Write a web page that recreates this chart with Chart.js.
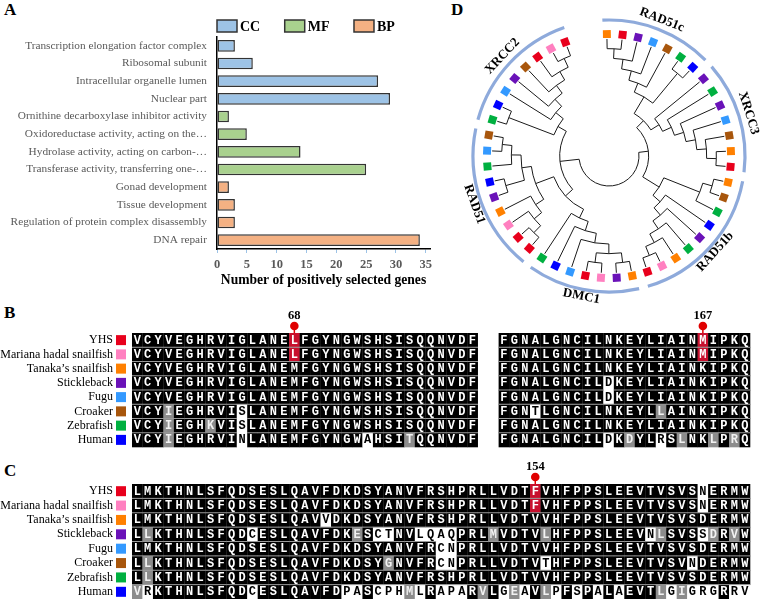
<!DOCTYPE html>
<html>
<head>
<meta charset="utf-8">
<script src="https://cdn.jsdelivr.net/npm/chart.js@4.4.1/dist/chart.umd.min.js"></script>
<style>
  body { margin: 0; background: #fff; width: 760px; height: 599px; overflow: hidden; position: relative; }
  .tag { position: absolute; font: bold 17px "Liberation Serif", "Times New Roman", serif; color: #000; }
  canvas { position: absolute; }
</style>
</head>
<body>
<div class="tag" style="left:4px;top:0px">A</div>
<div class="tag" style="left:4px;top:303px">B</div>
<div class="tag" style="left:4px;top:461px">C</div>
<div class="tag" style="left:451px;top:0px">D</div>
<canvas id="goChart" width="440" height="300" style="left:0;top:0"></canvas>
<canvas id="treeChart" width="320" height="310" style="left:440px;top:0"></canvas>
<canvas id="alnB" width="760" height="150" style="left:0;top:310px"></canvas>
<canvas id="alnC" width="760" height="139" style="left:0;top:460px"></canvas>
<script>
const SERIF = '"Liberation Serif", "Times New Roman", serif';
Chart.defaults.font.family = SERIF;

// ---- panel A data ----
const goTerms = [
  "Transcription elongation factor complex",
  "Ribosomal subunit",
  "Intracellular organelle lumen",
  "Nuclear part",
  "Ornithine decarboxylase inhibitor activity",
  "Oxidoreductase activity, acting on the…",
  "Hydrolase activity, acting on carbon-…",
  "Transferase activity, transferring one-…",
  "Gonad development",
  "Tissue development",
  "Regulation of protein complex disassembly",
  "DNA repair"
];
const goCounts = [3, 6, 27, 29, 2, 5, 14, 25, 2, 3, 3, 34];
const goClass = ["CC", "CC", "CC", "CC", "MF", "MF", "MF", "MF", "BP", "BP", "BP", "BP"];
const goClassNames = ["CC", "MF", "BP"];
const goClassFill = ["#9dc3e6", "#a9d18e", "#f4b183"];

// ---- species ----
const species = ["YHS", "Mariana hadal snailfish", "Tanaka\u2019s snailfish", "Stickleback", "Fugu", "Croaker", "Zebrafish", "Human"];
const speciesCode = ["Y", "M", "T", "S", "F", "C", "Z", "H"];
const speciesColor = ["#e8001c", "#ff80c0", "#ff8000", "#6a12b8", "#3399ff", "#a8560c", "#00b040", "#0000ff"];

// ---- panel B alignment ----
const bLeftSeqs = [
  "VCYVEGHRVIGLANELFGYNGWSHSISQQNVDF",
  "VCYVEGHRVIGLANELFGYNGWSHSISQQNVDF",
  "VCYVEGHRVIGLANEMFGYNGWSHSISQQNVDF",
  "VCYVEGHRVIGLANEMFGYNGWSHSISQQNVDF",
  "VCYVEGHRVIGLANEMFGYNGWSHSISQQNVDF",
  "VCYIEGHRVISLANEMFGYNGWSHSISQQNVDF",
  "VCYIEGHKVISLANEMFGYNGWSHSISQQNVDF",
  "VCYIEGHRVINLANEMFGYNGWAHSITQQNVDF"
];
const bLeftMarks = [{15: "r"}, {15: "r"}, {}, {}, {}, {3: "g", 10: "w"}, {3: "g", 7: "g", 10: "w"}, {3: "g", 10: "w", 22: "w", 26: "g"}];
const bRightSeqs = [
  "FGNALGNCILNKEYLIAINMIPKQ",
  "FGNALGNCILNKEYLIAINMIPKQ",
  "FGNALGNCILNKEYLIAINKIPKQ",
  "FGNALGNCILDKEYLIAINKIPKQ",
  "FGNALGNCILDKEYLIAINKIPKQ",
  "FGNTLGNCILNKEYLLAINKIPKQ",
  "FGNALGNCILNKEYLIAINKIPKQ",
  "FGNALGNCILDKDYLRSLNKLPRQ"
];
const bRightMarks = [{19: "r"}, {19: "r"}, {}, {10: "w"}, {10: "w"}, {3: "w", 15: "g"}, {}, {10: "w", 12: "g", 15: "w", 17: "g", 20: "g", 22: "g"}];
const bSites = [{col: 15, label: "68"}, {col: 54, label: "167"}];

// ---- panel C alignment ----
const cSeqs = [
  "LMKTHNLSFQDSESLQAVFDKDSYANVFRSHPRLLVDTFVHFPPSLEEVTVSVSNERMW",
  "LMKTHNLSFQDSESLQAVFDKDSYANVFRSHPRLLVDTFVHFPPSLEEVTVSVSNERMW",
  "LMKTHNLSFQDSESLQAVVDKDSYANVFRSHPRLLVDTVVHFPPSLEEVTVSVSDERMW",
  "LLKTHNLSFQDCESLQAVFDKESCTNVLQAQPRLMVDTVLHFPPSLEEVNLSVSSDRVW",
  "LMKTHNLSFQDSESLQAVFDKDSYANVFRCNPRLLVDTVVHFPPSLEEVTVSVSDERMW",
  "LLKTHNLSFQDSESLQAVFDKDSYGNVFRCNPRLLVDTVTHFPPSLEEVTVSVNDERMW",
  "LLKTHNLSFQDSESLQAVFDKDSYANVFRSHPRLLVDTVVHFPPSLEEVTVSVSDERMW",
  "VRKTHNLSFQDCESLQAVFDPASCPHMLRAPARVLGEAVLPFSPALAEVTLGIGRGRRV"
];
const cMarks = [
  {38: "r", 54: "w"},
  {38: "r", 54: "w"},
  {18: "w"},
  {1: "g", 11: "w", 21: "g", 23: "w", 24: "w", 27: "w", 28: "w", 29: "w", 30: "w", 34: "g", 39: "g", 49: "w", 50: "g", 54: "w", 55: "g", 57: "g"},
  {29: "w", 30: "w"},
  {1: "g", 24: "g", 29: "w", 30: "w", 39: "w", 53: "w"},
  {1: "g"},
  {0: "g", 1: "w", 11: "w", 20: "w", 21: "w", 23: "w", 24: "w", 25: "w", 26: "g", 27: "w", 29: "w", 30: "w", 31: "w", 33: "g", 35: "w", 36: "g", 37: "w", 39: "g", 40: "w", 42: "w", 44: "w", 46: "w", 50: "g", 51: "w", 52: "g", 53: "w", 54: "w", 55: "w", 57: "w", 58: "w"}
];
const cSites = [{col: 38, label: "154"}];

// ---- panel D tree (leaves listed clockwise from the top) ----
const cladeNames = ["RAD51c", "XRCC3", "RAD51b", "DMC1", "RAD51", "XRCC2"];
const cladeTrees = [
  [[[[["T", "Y"], "S"], "F"], "C"], ["Z", "H"]],
  ["S", ["Z", ["S", ["F", ["C", ["T", "Y"]]]]]],
  [[["T", "C"], "Z"], ["H", ["S", ["Z", ["T", ["M", "Y"]]]]]],
  [[[[["T", "S"], ["M", "Y"]], "F"], "H"], "Z"],
  [[[["Y", "Y"], "M"], "T"], [["S", "H"], ["Z", ["F", "C"]]]],
  [["Z", "H"], ["F", ["S", ["C", ["Y", ["M", "Y"]]]]]]
];
const rootShape = [[[0, 1], 2], [[3, 4], 5]];

// ================= panel A =================
const goLegend = {
  id: "goLegend",
  afterDraw(chart) {
    const ctx = chart.ctx;
    let x = chart.chartArea.left;
    const y = 26;
    ctx.save();
    ctx.font = "bold 14px " + SERIF;
    ctx.textBaseline = "middle";
    chart.data.datasets.forEach(ds => {
      ctx.fillStyle = ds.backgroundColor;
      ctx.fillRect(x, y - 6, 20, 12);
      ctx.strokeStyle = "#333";
      ctx.lineWidth = 1.5;
      ctx.strokeRect(x, y - 6, 20, 12);
      ctx.fillStyle = "#000";
      ctx.fillText(ds.label, x + 23, y + 1);
      x += 23 + ctx.measureText(ds.label).width + 24.5;
    });
    ctx.restore();
  }
};

new Chart(document.getElementById("goChart"), {
  type: "bar",
  data: {
    labels: goTerms,
    datasets: goClassNames.map((c, k) => ({
      label: c,
      data: goCounts.map((v, i) => (goClass[i] === c ? v : null)),
      backgroundColor: goClassFill[k],
      borderColor: "#333",
      borderWidth: 1.5,
      borderSkipped: false,
      grouped: false,
      barPercentage: 0.66,
      categoryPercentage: 1
    }))
  },
  options: {
    indexAxis: "y",
    responsive: false,
    animation: false,
    layout: { padding: { top: 37, right: 10, bottom: 9, left: 0 } },
    plugins: { legend: { display: false }, tooltip: { enabled: false } },
    scales: {
      y: {
        grid: { display: false, drawTicks: false },
        border: { color: "#000", width: 1.5 },
        ticks: { color: "#595959", font: { size: 11.3 }, padding: 10, autoSkip: false },
        afterFit(s) { s.width = 217; s.paddingTop = 0; s.paddingBottom = 0; }
      },
      x: {
        min: 0,
        max: 35.7,
        ticks: { stepSize: 5, includeBounds: false, color: "#595959", font: { size: 12.5, weight: "bold" }, padding: 4 },
        grid: { drawOnChartArea: false, color: "#9dc3e6", tickLength: 4 },
        border: { color: "#000", width: 1.5 },
        title: {
          display: true,
          text: "Number of positively selected genes",
          color: "#000",
          font: { size: 13.6, weight: "bold" },
          padding: { top: 0, bottom: 2 }
        },
        afterFit(s) { s.height = 42; }
      }
    }
  },
  plugins: [goLegend]
});

// ================= panel B / C =================
const cellFill = { ".": "#000", g: "#8c8c8c", w: "#fff", r: "#c8102e" };
const cellText = { ".": "#fff", g: "#f2f2f2", w: "#000", r: "#fff" };

function alignPlugin(blocks, sites) {
  return {
    id: "align",
    afterDraw(chart) {
      const ctx = chart.ctx, xs = chart.scales.x, ys = chart.scales.y;
      const h = ys.getPixelForValue(1) - ys.getPixelForValue(0);
      const area = chart.chartArea;
      ctx.save();
      // species colour keys
      speciesColor.forEach((col, r) => {
        const yc = ys.getPixelForValue(r);
        ctx.fillStyle = col;
        ctx.fillRect(area.left - 16, yc - 5, 10, 10);
      });
      ctx.font = "bold 12px \"Liberation Mono\", \"Courier New\", monospace";
      ctx.textAlign = "center";
      ctx.textBaseline = "middle";
      blocks.forEach(b => {
        b.seqs.forEach((seq, r) => {
          const yc = ys.getPixelForValue(r);
          for (let c = 0; c < seq.length; c++) {
            const m = b.marks[r][c] || ".";
            const x0 = xs.getPixelForValue(b.start + c), x1 = xs.getPixelForValue(b.start + c + 1);
            ctx.fillStyle = cellFill[m];
            ctx.fillRect(x0, yc - h / 2, x1 - x0 + 0.3, h + 0.3);
          }
        });
        // thin separators between rows
        ctx.fillStyle = "#9a9a9a";
        for (let r = 0; r < b.seqs.length - 1; r++) {
          const yb = ys.getPixelForValue(r) + h / 2;
          for (let c = 0; c < b.seqs[r].length; c++) {
            const m1 = b.marks[r][c] || ".", m2 = b.marks[r + 1][c] || ".";
            if (m1 === "w" && m2 === "w") continue;
            const x0 = xs.getPixelForValue(b.start + c), x1 = xs.getPixelForValue(b.start + c + 1);
            ctx.fillRect(x0, yb - 0.5, x1 - x0 + 0.3, 1);
          }
        }
        b.seqs.forEach((seq, r) => {
          const yc = ys.getPixelForValue(r);
          for (let c = 0; c < seq.length; c++) {
            const m = b.marks[r][c] || ".";
            ctx.fillStyle = cellText[m];
            ctx.fillText(seq[c], xs.getPixelForValue(b.start + c + 0.5), yc + 0.5);
          }
        });
      });
      // positively selected sites
      sites.forEach(s => {
        const xc = xs.getPixelForValue(s.col + 0.5);
        ctx.strokeStyle = "#e00000";
        ctx.lineWidth = 1.5;
        ctx.beginPath();
        ctx.moveTo(xc, area.top - 7);
        ctx.lineTo(xc, area.top);
        ctx.stroke();
        ctx.fillStyle = "#e00000";
        ctx.beginPath();
        ctx.arc(xc, area.top - 7, 4.3, 0, Math.PI * 2);
        ctx.fill();
        ctx.fillStyle = "#000";
        ctx.font = "bold 12.5px " + SERIF;
        ctx.fillText(s.label, xc, area.top - 17);
      });
      ctx.restore();
    }
  };
}

function alignChart(id, pad, blocks, sites) {
  return new Chart(document.getElementById(id), {
    type: "scatter",
    data: { datasets: [] },
    options: {
      responsive: false,
      animation: false,
      layout: { padding: pad, autoPadding: false },
      plugins: { legend: { display: false }, tooltip: { enabled: false } },
      scales: {
        x: { type: "linear", min: 0, max: 59, display: false },
        y: {
          type: "category",
          labels: species,
          offset: true,
          grid: { display: false, drawTicks: false },
          border: { display: false },
          ticks: { color: "#000", font: { size: 12 }, padding: 19, autoSkip: false },
          afterFit(s) { s.width = 132; s.paddingTop = 0; s.paddingBottom = 0; }
        }
      }
    },
    plugins: [alignPlugin(blocks, sites)]
  });
}

alignChart("alnB", { top: 23, right: 10, bottom: 13, left: 0 }, [
  { start: 0, seqs: bLeftSeqs, marks: bLeftMarks },
  { start: 35, seqs: bRightSeqs, marks: bRightMarks }
], bSites);
alignChart("alnC", { top: 24, right: 10, bottom: 0, left: 0 }, [
  { start: 0, seqs: cSeqs, marks: cMarks }
], cSites);

// ================= panel D =================
const D2R = Math.PI / 180;
const leafStart = -1, leafStep = 340 / 46;
const tipR = 117, dotR = 122, rootR = 30, cladeArcR = 136;
const leaves = [];
const cladeSpan = cladeNames.map(() => ({ a0: 999, a1: -999 }));

function buildTree(t, clade) {
  if (typeof t === "number") return buildTree(cladeTrees[t], t);
  if (typeof t === "string") {
    const a = leafStart + leaves.length * leafStep;
    leaves.push({ sp: t, a: a });
    cladeSpan[clade].a0 = Math.min(cladeSpan[clade].a0, a);
    cladeSpan[clade].a1 = Math.max(cladeSpan[clade].a1, a);
    return { leaf: true, a: a, h: 0 };
  }
  const kids = t.map(c => buildTree(c, clade));
  return { kids: kids, a: (kids[0].a + kids[kids.length - 1].a) / 2, h: 1 + Math.max(...kids.map(k => k.h)) };
}
const treeRoot = buildTree(rootShape, -1);
const treeH = treeRoot.h;
const nodeR = n => (n.leaf ? tipR : rootR + (tipR - rootR) * (1 - n.h / treeH));

const treePlugin = {
  id: "tree",
  beforeDatasetsDraw(chart) {
    const ctx = chart.ctx, xs = chart.scales.x, ys = chart.scales.y;
    const P = (r, a) => [xs.getPixelForValue(r * Math.sin(a * D2R)), ys.getPixelForValue(r * Math.cos(a * D2R))];
    const cx = xs.getPixelForValue(0), cy = ys.getPixelForValue(0);
    const k = xs.getPixelForValue(1) - cx;
    ctx.save();
    ctx.strokeStyle = "#1a1a1a";
    ctx.lineWidth = 1;
    (function draw(n) {
      if (n.leaf) return;
      const r = nodeR(n);
      ctx.beginPath();
      ctx.arc(cx, cy, r * k, (n.kids[0].a - 90) * D2R, (n.kids[n.kids.length - 1].a - 90) * D2R);
      ctx.stroke();
      n.kids.forEach(ch => {
        const p0 = P(r, ch.a), p1 = P(nodeR(ch), ch.a);
        ctx.beginPath();
        ctx.moveTo(p0[0], p0[1]);
        ctx.lineTo(p1[0], p1[1]);
        ctx.stroke();
        draw(ch);
      });
    })(treeRoot);
    // clade arcs and names
    ctx.strokeStyle = "#8eaadb";
    ctx.lineWidth = 3.2;
    ctx.font = "bold 13px " + SERIF;
    ctx.textAlign = "center";
    ctx.textBaseline = "middle";
    ctx.fillStyle = "#000";
    cladeNames.forEach((name, i) => {
      const s = cladeSpan[i];
      ctx.beginPath();
      ctx.arc(cx, cy, cladeArcR * k, (s.a0 - 1.8 - 90) * D2R, (s.a1 + 1.8 - 90) * D2R);
      ctx.stroke();
      const mid = (s.a0 + s.a1) / 2;
      const flip = mid > 90 && mid < 270;
      const p = P(flip ? 143 : 146, mid);
      ctx.save();
      ctx.translate(p[0], p[1]);
      ctx.rotate((flip ? mid - 180 : mid) * D2R);
      ctx.fillText(name, 0, 0);
      ctx.restore();
    });
    ctx.restore();
  }
};

new Chart(document.getElementById("treeChart"), {
  type: "scatter",
  data: {
    datasets: [{
      data: leaves.map(l => ({ x: dotR * Math.sin(l.a * D2R), y: dotR * Math.cos(l.a * D2R) })),
      pointStyle: "rect",
      pointRadius: 5.6,
      pointBorderWidth: 0,
      pointBackgroundColor: leaves.map(l => speciesColor[speciesCode.indexOf(l.sp)]),
      pointRotation: leaves.map(l => l.a)
    }]
  },
  options: {
    responsive: false,
    animation: false,
    layout: { padding: 0, autoPadding: false },
    plugins: { legend: { display: false }, tooltip: { enabled: false } },
    scales: {
      x: { type: "linear", min: -169, max: 151, display: false },
      y: { type: "linear", min: -154, max: 156, display: false }
    }
  },
  plugins: [treePlugin]
});
</script>
</body>
</html>
